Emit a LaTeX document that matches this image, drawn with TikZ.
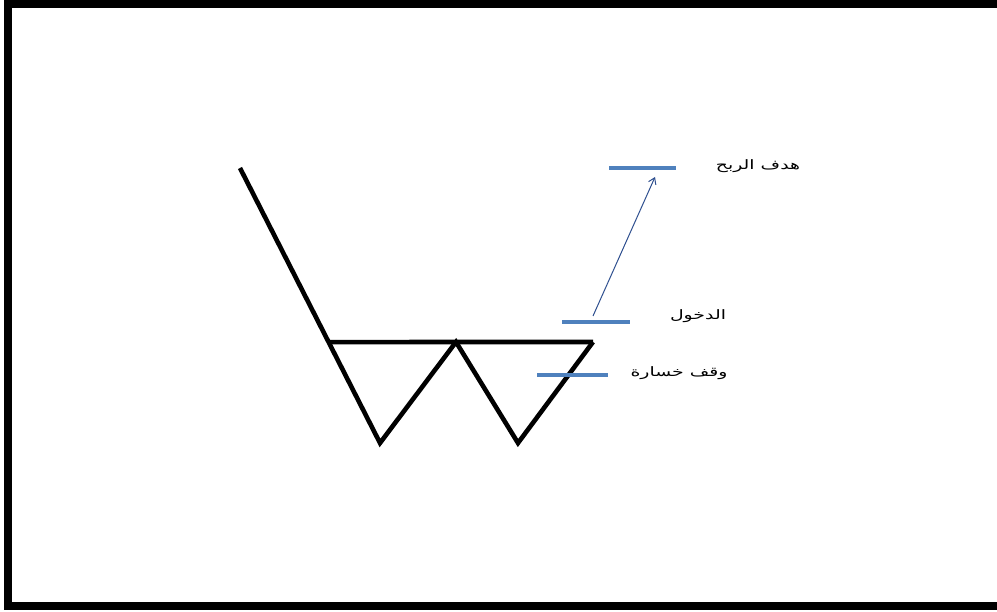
\documentclass[tikz,border=0pt]{standalone}
\usepackage{fontspec}
\usepackage{tikz}
\usetikzlibrary{arrows.meta,calc,positioning}
\usepackage{xcolor}
\newfontfamily\arabicfont[Script=Arabic, FakeStretch=1.45]{DejaVu Sans}
\TeXXeTstate=1
\definecolor{levelblue}{HTML}{4F81BD}
\definecolor{arrowblue}{HTML}{2E4F8F}

\begin{document}
\begin{tikzpicture}[x=1pt, y=-1pt,
    every node/.style={font=\arabicfont\fontsize{13}{15}\selectfont, inner sep=0pt},
    price/.style={line width=4.6pt, line join=miter},
    level/.style={levelblue, line width=3.5pt},
    frame/.style={line width=8pt}]
  \useasboundingbox (0,0) rectangle (997,612);
  % frame
  \draw[frame] (1000,4) -- (8,4) -- (8,606) -- (1000,606);
  % price path (W)
  \coordinate (top) at (240,168);
  \coordinate (low1) at (380,443);
  \coordinate (mid) at (456,342);
  \coordinate (low2) at (518,443);
  \coordinate (brk) at (593,342);
  \coordinate (neck) at ($(top)!0.633!(low1)$);
  \draw[price] (top) -- (low1) -- (mid) -- (low2) -- (brk);
  \draw[price] (neck) -- (brk);
  % levels
  \coordinate (tpL) at (609,168);
  \coordinate (tpR) at (676,168);
  \coordinate (enL) at (562,322);
  \coordinate (enR) at (630,322);
  \coordinate (slL) at (537,375);
  \coordinate (slR) at (608,375);
  \draw[level] (tpL) -- (tpR);
  \draw[level] (enL) -- (enR);
  \draw[level] (slL) -- (slR);
  % labels
  \node (tp) at (758,166) {\beginR هدف الربح\endR};
  \node (en) at (698,316) {\beginR الدخول\endR};
  \node (sl) at (679,373) {\beginR وقف خسارة\endR};
  % arrow
  \coordinate (from) at (593,316);
  \coordinate (to) at (655,177);
  \draw[arrowblue, line width=1pt, -{Straight Barb[length=6pt,width=8pt]}] (from) -- (to);
\end{tikzpicture}
\end{document}
